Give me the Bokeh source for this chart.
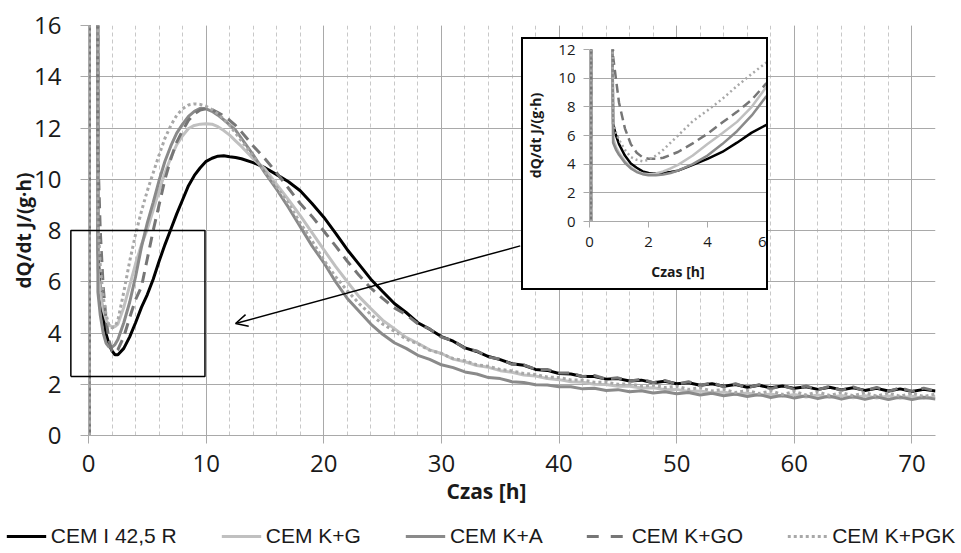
from bokeh.plotting import figure
from bokeh.models import (Range1d, SingleIntervalTicker, Legend, LegendItem,
                          Arrow, OpenHead, Title, ColumnDataSource)
from bokeh.embed import file_html
from bokeh.resources import INLINE

# ---------------- data ----------------
SERIES = ["CEM I 42,5 R", "CEM K+G", "CEM K+A", "CEM K+GO", "CEM K+PGK"]

# time grid of the main chart [h]
T = [0.08, 0.1, 0.72, 0.8, 1.0, 1.25, 1.5, 1.75, 2.0, 2.25, 2.5, 3.0, 3.5, 4.0, 4.5,
     5.0, 5.5, 6.0, 6.5, 7.0, 7.5, 8.0, 8.5, 9.0, 9.5, 10.0, 10.5, 11.0, 11.5, 12.0, 12.5,
     13, 14, 15, 16, 17, 18, 19, 20, 21, 22, 23, 24, 25, 26, 27, 28, 29, 30,
     31, 32, 33, 34, 35, 36, 37, 38, 39, 40, 41, 42, 43, 44, 45, 46, 47, 48, 49, 50,
     51, 52, 53, 54, 55, 56, 57, 58, 59, 60, 61, 62, 63, 64, 65, 66, 67, 68, 69, 70, 71, 72]

CEM_I = [0, 60, 60, 7.2, 5.6, 4.6, 3.95, 3.55, 3.3, 3.15, 3.15, 3.4, 3.85, 4.4, 5.0,
         5.5, 6.1, 6.8, 7.45, 8.05, 8.65, 9.2, 9.75, 10.15, 10.45, 10.7, 10.82, 10.9, 10.92, 10.88, 10.85,
         10.8, 10.65, 10.45, 10.18, 9.9, 9.55, 9.05, 8.52, 7.9, 7.25, 6.68, 6.1, 5.62, 5.15, 4.8, 4.4, 4.15, 3.86,
         3.68, 3.42, 3.28, 3.08, 2.96, 2.8, 2.74, 2.58, 2.54, 2.42, 2.4, 2.3, 2.3, 2.2, 2.22, 2.13, 2.16, 2.06, 2.12, 2.02,
         2.06, 1.96, 2.02, 1.92, 1.99, 1.88, 1.96, 1.86, 1.93, 1.84, 1.9, 1.8, 1.88, 1.78, 1.86, 1.76, 1.84, 1.74, 1.82, 1.72, 1.8, 1.74]

CEM_KG = [0, 60, 60, 6.5, 5.6, 4.9, 4.5, 4.3, 4.25, 4.25, 4.35, 5.0, 5.85, 6.7, 7.45,
          8.05, 8.8, 9.55, 10.25, 10.85, 11.35, 11.7, 11.98, 12.1, 12.15, 12.17, 12.15, 12.05, 11.9, 11.72, 11.5,
          11.28, 10.8, 10.4, 9.8, 9.2, 8.58, 7.92, 7.25, 6.6, 6.0, 5.42, 4.95, 4.5, 4.17, 3.83, 3.6, 3.34, 3.2,
          2.98, 2.88, 2.73, 2.66, 2.53, 2.47, 2.36, 2.32, 2.22, 2.18, 2.1, 2.08, 2.0, 1.99, 1.92, 1.92, 1.85, 1.86, 1.79, 1.8,
          1.72, 1.74, 1.66, 1.7, 1.6, 1.66, 1.56, 1.62, 1.52, 1.6, 1.5, 1.58, 1.48, 1.56, 1.47, 1.55, 1.46, 1.54, 1.45, 1.53, 1.44, 1.52]

CEM_KA = [0, 60, 60, 5.6, 4.7, 4.0, 3.6, 3.45, 3.45, 3.55, 3.75, 4.4, 5.2, 6.2, 7.35,
          8.3, 9.1, 9.95, 10.7, 11.3, 11.8, 12.15, 12.45, 12.65, 12.77, 12.75, 12.65, 12.5, 12.32, 12.12, 11.92,
          11.6, 10.95, 10.25, 9.6, 8.9, 8.15, 7.4, 6.75, 6.0, 5.35, 4.85, 4.35, 3.95, 3.62, 3.4, 3.13, 2.97, 2.76,
          2.65, 2.48, 2.4, 2.26, 2.22, 2.1, 2.07, 1.98, 1.97, 1.9, 1.9, 1.82, 1.84, 1.76, 1.79, 1.71, 1.75, 1.66, 1.71, 1.63,
          1.68, 1.58, 1.65, 1.55, 1.62, 1.52, 1.6, 1.48, 1.57, 1.46, 1.55, 1.44, 1.54, 1.42, 1.52, 1.41, 1.51, 1.4, 1.5, 1.4, 1.49, 1.42]

CEM_KGO = [0, 60, 60, 11.0, 8.0, 5.8, 4.5, 3.7, 3.3, 3.22, 3.35, 3.85, 4.6, 5.3, 5.8,
           6.9, 8.0, 9.0, 10.0, 10.8, 11.45, 11.9, 12.3, 12.55, 12.7, 12.75, 12.72, 12.6, 12.47, 12.3, 12.1,
           11.85, 11.3, 10.8, 10.25, 9.65, 9.05, 8.55, 7.98, 7.4, 6.8, 6.25, 5.75, 5.35, 4.98, 4.72, 4.36, 4.16, 3.84,
           3.7, 3.4, 3.3, 3.06, 2.98, 2.78, 2.76, 2.58, 2.58, 2.44, 2.44, 2.3, 2.34, 2.2, 2.25, 2.12, 2.2, 2.06, 2.15, 2.0,
           2.1, 1.95, 2.06, 1.9, 2.02, 1.86, 1.98, 1.82, 1.96, 1.8, 1.93, 1.78, 1.92, 1.76, 1.9, 1.74, 1.88, 1.72, 1.86, 1.72, 1.85, 1.74]

CEM_KPGK = [0, 60, 60, 8.5, 6.6, 5.4, 4.7, 4.3, 4.2, 4.25, 4.5, 5.6, 6.8, 7.85, 8.75,
            9.55, 10.25, 10.95, 11.6, 12.1, 12.5, 12.75, 12.9, 12.94, 12.92, 12.85, 12.72, 12.55, 12.35, 12.1, 11.8,
            11.5, 10.9, 10.3, 9.7, 9.05, 8.3, 7.6, 6.85, 6.2, 5.65, 5.15, 4.72, 4.35, 4.07, 3.76, 3.57, 3.33, 3.2,
            3.0, 2.92, 2.76, 2.7, 2.58, 2.52, 2.42, 2.38, 2.28, 2.26, 2.17, 2.16, 2.08, 2.08, 2.0, 2.02, 1.93, 1.96, 1.87, 1.92,
            1.8, 1.86, 1.74, 1.8, 1.68, 1.76, 1.64, 1.74, 1.6, 1.72, 1.58, 1.7, 1.56, 1.68, 1.55, 1.67, 1.54, 1.66, 1.53, 1.65, 1.52, 1.62]

# inset (first 6 hours)
TI = [0.05, 0.06, 0.72, 0.8, 0.9, 1.0, 1.2, 1.4, 1.6, 1.8, 2.0, 2.25, 2.5, 2.75, 3.0,
      3.5, 4.0, 4.5, 5.0, 5.5, 6.0]
IN_CEM_I = [0, 30, 30, 6.8, 6.0, 5.4, 4.6, 4.05, 3.75, 3.5, 3.38, 3.35, 3.38, 3.45, 3.55,
            3.95, 4.37, 4.85, 5.5, 6.2, 6.75]
IN_CEM_KG = [0, 30, 30, 5.8, 5.2, 4.8, 4.2, 3.8, 3.5, 3.35, 3.3, 3.35, 3.5, 3.7, 3.95,
             4.6, 5.4, 6.15, 6.95, 8.0, 9.4]
IN_CEM_KA = [0, 30, 30, 5.5, 5.0, 4.65, 4.1, 3.7, 3.45, 3.3, 3.22, 3.22, 3.28, 3.38, 3.55,
             4.0, 4.6, 5.4, 6.3, 7.4, 8.75]
IN_CEM_KGO = [0, 30, 30, 11.5, 9.9, 8.3, 6.5, 5.4, 4.8, 4.48, 4.38, 4.37, 4.45, 4.65, 4.85,
              5.45, 6.12, 6.9, 7.65, 8.5, 9.65]
IN_CEM_KPGK = [0, 30, 30, 7.0, 6.2, 5.7, 5.0, 4.5, 4.3, 4.2, 4.3, 4.6, 5.0, 5.5, 6.0,
               7.0, 7.75, 8.55, 9.45, 10.3, 11.1]

MAIN_VALUES = [CEM_I, CEM_KG, CEM_KA, CEM_KGO, CEM_KPGK]
INSET_VALUES = [IN_CEM_I, IN_CEM_KG, IN_CEM_KA, IN_CEM_KGO, IN_CEM_KPGK]

# zoom rectangle (data units of main chart) and arrow
ZOOM_X = [-1.5, 9.9]
ZOOM_Y = [2.3, 8.0]
ARROW = dict(x_start=36.7, y_start=7.4, x_end=12.5, y_end=4.37)

# ---------------- styles ----------------
COLORS = ["#000000", "#c0c0c0", "#8a8a8a", "#767676", "#a8a8a8"]
DASHES = ["solid", "solid", "solid", "11 7", "3 3"]
LEGEND_DASHES = ["solid", "solid", "solid", "12 12", "3 3"]
GRID = "#a9a9a9"
FONT = "Open Sans"
TXT = "#1a1a1a"

p = figure(frame_width=847, frame_height=410, x_range=Range1d(0, 72), y_range=Range1d(0, 16),
           output_backend="svg", toolbar_location=None,
           min_border_left=88, min_border_right=26, min_border_top=25, min_border_bottom=84)
p.outline_line_color = None

xt = SingleIntervalTicker(interval=10, num_minor_ticks=5)
yt = SingleIntervalTicker(interval=2, num_minor_ticks=0)
p.xaxis.ticker = xt
p.yaxis.ticker = yt
p.xgrid.ticker = xt
p.ygrid.ticker = yt
p.xgrid.grid_line_color = GRID
p.ygrid.grid_line_color = GRID
p.xgrid.minor_grid_line_color = "#c8c8c8"
p.xgrid.minor_grid_line_dash = "4 3"

for ax in (p.xaxis[0], p.yaxis[0]):
    ax.axis_line_color = GRID
    ax.major_tick_line_color = GRID
    ax.major_tick_out = 8
    ax.major_tick_in = 0
    ax.minor_tick_line_color = None
    ax.major_label_text_font = FONT
    ax.major_label_text_font_size = "24px"
    ax.major_label_text_color = TXT
p.xaxis.major_label_standoff = 11
p.yaxis.major_label_standoff = 19
p.yaxis.axis_label = "dQ/dt J/(g·h)"
p.yaxis.axis_label_text_font = FONT
p.yaxis.axis_label_text_font_size = "19px"
p.yaxis.axis_label_text_font_style = "bold"
p.yaxis.axis_label_text_color = TXT
p.yaxis.axis_label_standoff = -6

p.add_layout(Title(text="Czas [h]", align="left", offset=358, standoff=1, text_font=FONT,
                   text_font_size="21px", text_font_style="bold", text_color=TXT), "below")

renderers = []
for name, vals, col, dash in zip(SERIES, MAIN_VALUES, COLORS, DASHES):
    src = ColumnDataSource(dict(x=T, y=vals))
    r = p.line("x", "y", source=src, line_color=col, line_width=3, line_dash=dash)
    renderers.append(r)

# zoom rectangle, drawn on the overlay level so that it may reach past the y axis
p.line([ZOOM_X[0], ZOOM_X[1], ZOOM_X[1], ZOOM_X[0], ZOOM_X[0]],
       [ZOOM_Y[0], ZOOM_Y[0], ZOOM_Y[1], ZOOM_Y[1], ZOOM_Y[0]],
       line_color="black", line_width=1.5, level="overlay")
p.add_layout(Arrow(end=OpenHead(size=12, line_width=1.5, line_color="black"),
                   line_width=1.5, line_color="black", **ARROW))

# ---------------- legend (own strip under the chart) ----------------
# the strip re-plots the series outside of its visible window; only the legend shows
leg = figure(width=961, height=34, x_range=Range1d(0, 72), y_range=Range1d(-20, -19),
             output_backend="svg", toolbar_location=None,
             x_axis_type=None, y_axis_type=None, min_border=0,
             styles={"position": "absolute", "left": "0px", "top": "519px"})
leg.outline_line_color = None
leg.grid.visible = False
leg_items = []
for name, vals, col, dash in zip(SERIES, MAIN_VALUES, COLORS, LEGEND_DASHES):
    lr = leg.line(T, vals, line_color=col, line_width=3, line_dash=dash)
    leg_items.append(LegendItem(label=name, renderers=[lr]))
legend = Legend(items=leg_items, orientation="horizontal", location="center",
                label_text_font="Liberation Sans", label_text_font_size="21px",
                label_text_color=TXT,
                glyph_width=40, glyph_height=20, spacing=44, label_standoff=5,
                padding=0, margin=0, border_line_color=None, background_fill_alpha=0)
leg.add_layout(legend)

# ---------------- inset ----------------
ins = figure(frame_width=177, frame_height=172, x_range=Range1d(0, 6), y_range=Range1d(0, 12),
             output_backend="svg", toolbar_location=None,
             min_border_left=66, min_border_top=10, min_border_right=0, min_border_bottom=67,
             styles={"position": "absolute", "left": "521px", "top": "37px",
                     "border": "2px solid black", "background": "white"})
ins.outline_line_color = None
ins.xaxis.ticker = SingleIntervalTicker(interval=2, num_minor_ticks=0)
ins.yaxis.ticker = SingleIntervalTicker(interval=2, num_minor_ticks=0)
ins.ygrid.ticker = ins.yaxis[0].ticker
ins.xgrid.grid_line_color = None
ins.ygrid.grid_line_color = GRID
for ax in (ins.xaxis[0], ins.yaxis[0]):
    ax.axis_line_color = GRID
    ax.major_tick_line_color = GRID
    ax.major_tick_out = 6
    ax.major_tick_in = 0
    ax.minor_tick_line_color = None
    ax.major_label_text_font = FONT
    ax.major_label_text_font_size = "15px"
    ax.major_label_text_color = TXT
    ax.axis_label_text_font = FONT
    ax.axis_label_text_font_size = "14px"
    ax.axis_label_text_font_style = "bold"
    ax.axis_label_text_color = TXT
ins.xaxis.major_label_standoff = 9
ins.yaxis.major_label_standoff = 8
ins.xaxis.axis_label = "Czas [h]"
ins.yaxis.axis_label = "dQ/dt J/(g·h)"
ins.xaxis.axis_label_standoff = 12
ins.yaxis.axis_label_standoff = 10

for vals, col, dash in zip(INSET_VALUES, COLORS, ["solid", "solid", "solid", "9 5", "2 3"]):
    ins.line(TI, vals, line_color=col, line_width=2.5, line_dash=dash)

open("out.html", "w").write(file_html([p, ins, leg], INLINE))
